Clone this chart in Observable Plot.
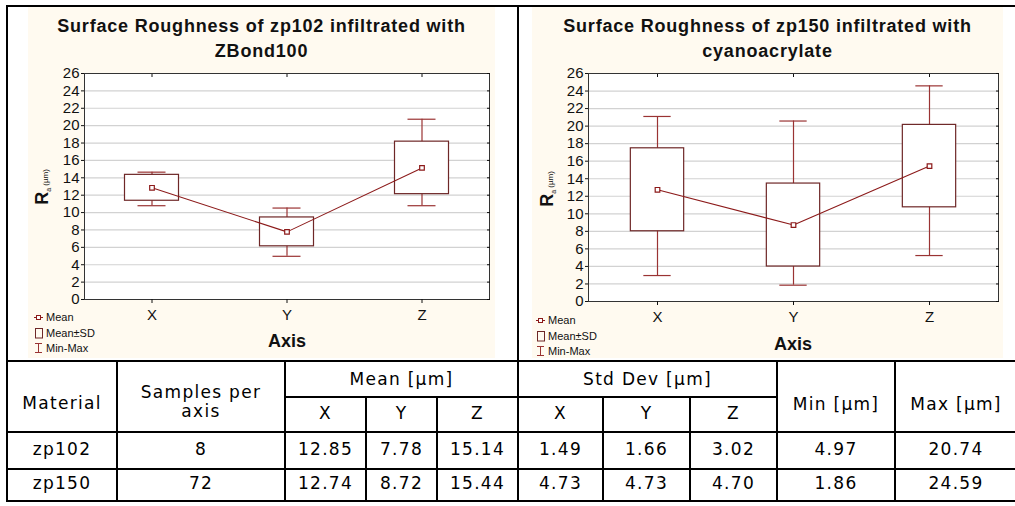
<!DOCTYPE html>
<html><head><meta charset="utf-8">
<script src="https://cdn.jsdelivr.net/npm/d3@7"></script>
<script src="https://cdn.jsdelivr.net/npm/@observablehq/plot@0.6"></script>
<style>
body{margin:0;background:#fff;}
#root{position:relative;width:1015px;height:506px;overflow:hidden;background:#fff;}
.panel{position:absolute;background:#fffaf0;}
.panel svg{position:absolute;left:0;top:0;}
.hl{position:absolute;background:#000;height:2px;}
.vl{position:absolute;background:#000;width:2px;}
.cell{position:absolute;display:flex;flex-direction:column;align-items:center;justify-content:center;text-align:center;font-family:'DejaVu Sans',sans-serif;font-size:17px;line-height:18px;letter-spacing:1.3px;color:#000;box-sizing:border-box;}
.title{position:absolute;font-family:'Liberation Sans',Arial,sans-serif;font-weight:bold;font-size:18px;line-height:25px;text-align:center;white-space:nowrap;transform:translateX(-50%);letter-spacing:0.8px;color:#111;}
.axlab{position:absolute;font-family:'Liberation Sans',Arial,sans-serif;font-weight:bold;font-size:18px;line-height:18px;white-space:nowrap;transform:translateX(-50%);color:#111;}
.ylab{position:absolute;font-family:'Liberation Sans',Arial,sans-serif;line-height:18px;white-space:nowrap;transform:translate(-50%,-50%) rotate(-90deg);color:#111;}
.leg{position:absolute;font-family:'Liberation Sans',Arial,sans-serif;font-size:11px;line-height:12px;white-space:nowrap;color:#111;display:flex;align-items:center;}
.leg svg{margin-right:2px;}
</style>
</head><body>
<div id="root"></div>
<script>
// ---------- data ----------
const categories = ["X", "Y", "Z"];
const yTicks = [0, 2, 4, 6, 8, 10, 12, 14, 16, 18, 20, 22, 24, 26];

const zp102Mean = [12.85, 7.78, 15.14];
const zp102SD   = [1.49, 1.66, 3.02];
const zp102Min  = [10.79, 4.97, 10.79];
const zp102Max  = [14.65, 10.52, 20.74];

const zp150Mean = [12.74, 8.72, 15.44];
const zp150SD   = [4.73, 4.73, 4.70];
const zp150Min  = [2.96, 1.86, 5.24];
const zp150Max  = [21.10, 20.58, 24.59];

const chartTitles = [
  ["Surface Roughness of zp102 infiltrated with", "ZBond100"],
  ["Surface Roughness of zp150 infiltrated with", "cyanoacrylate"]
];
const xAxisTitle = "Axis";
const legendLabels = ["Mean", "Mean±SD", "Min-Max"];

const tableHeaders = ["Material", "Samples per axis", "Mean [µm]", "Std Dev [µm]", "Min [µm]", "Max [µm]"];
const tableMaterials = ["zp102", "zp150"];
const tableSamples = ["8", "72"];
const tableMean = [["12.85", "7.78", "15.14"], ["12.74", "8.72", "15.44"]];
const tableSD   = [["1.49", "1.66", "3.02"], ["4.73", "4.73", "4.70"]];
const tableMin  = ["4.97", "1.86"];
const tableMax  = ["20.74", "24.59"];

// ---------- styles ----------
const meanColor = "#8c1a1a";
const boxColor = "#6e2727";
const whiskColor = "#9a3333";

const root = document.getElementById("root");
function el(tag, cls, style, html) {
  const e = document.createElement(tag);
  if (cls) e.className = cls;
  if (style) e.setAttribute("style", style);
  if (html != null) e.innerHTML = html;
  root.appendChild(e);
  return e;
}

function makeChart(cfg) {
  const data = categories.map((c, i) => ({axis: c, mean: cfg.mean[i], sd: cfg.sd[i], min: cfg.min[i], max: cfg.max[i]}));
  const bw = (cfg.width - cfg.ml - cfg.mr) / categories.length;
  const boxInset = (bw - 54) / 2, capInset = (bw - 28) / 2;
  return Plot.plot({
    width: cfg.width, height: cfg.height,
    marginLeft: cfg.ml, marginRight: cfg.mr, marginTop: cfg.mt, marginBottom: cfg.mb,
    style: {background: "transparent", fontFamily: "'Liberation Sans', Arial, sans-serif", fontSize: "15px", color: "#111", overflow: "visible"},
    x: {type: "band", domain: categories, padding: 0},
    y: {domain: [0, 26]},
    marks: [
      Plot.frame({fill: "white"}),
      Plot.gridY(yTicks, {stroke: "#d2d2d2", strokeOpacity: 1, strokeWidth: 1.2}),
      Plot.ruleX(data, {x: "axis", y1: "min", y2: "max", stroke: whiskColor, strokeWidth: 1.2}),
      Plot.tickY(data, {x: "axis", y: "min", stroke: whiskColor, strokeWidth: 1.2, insetLeft: capInset, insetRight: capInset}),
      Plot.tickY(data, {x: "axis", y: "max", stroke: whiskColor, strokeWidth: 1.2, insetLeft: capInset, insetRight: capInset}),
      Plot.barY(data, {x: "axis", y1: d => d.mean - d.sd, y2: d => d.mean + d.sd, fill: "white", stroke: boxColor, strokeWidth: 1.2, insetLeft: boxInset, insetRight: boxInset}),
      Plot.line(data, {x: "axis", y: "mean", stroke: meanColor, strokeWidth: 1.1}),
      Plot.dot(data, {x: "axis", y: "mean", symbol: "square", r: 2.6, stroke: meanColor, fill: "white", strokeWidth: 1.2}),
      Plot.frame({stroke: "#333"}),
      Plot.axisY(yTicks, {anchor: "left", tickSize: 3, tickPadding: 2, label: null, fontSize: 15}),
      Plot.axisY(yTicks, {anchor: "right", tickSize: -3, tickFormat: () => "", label: null}),
      Plot.axisX({anchor: "bottom", tickSize: 4, tickPadding: 6, label: null, fontSize: 15}),
      Plot.axisX({anchor: "top", tickSize: -3, tickFormat: () => "", label: null})
    ]
  });
}

const panels = [
  {left: 28, top: 7, width: 467, height: 351, ml: 56, mr: 6, mt: 66, mb: 59,
   mean: zp102Mean, sd: zp102SD, min: zp102Min, max: zp102Max,
   titleX: 261.5, axisX: 287, axisTop: 332, yl: [43.5, 187], legX: 34, legY: [316.7, 332.5, 348], title: chartTitles[0]},
  {left: 532, top: 7, width: 471, height: 351, ml: 56, mr: 5, mt: 66, mb: 57,
   mean: zp150Mean, sd: zp150SD, min: zp150Min, max: zp150Max,
   titleX: 767.5, axisX: 793, axisTop: 335, yl: [548.5, 189], legX: 536, legY: [320, 335.5, 351], title: chartTitles[1]}
];

const legendIcons = [
  `<svg width="10" height="12"><line x1="0" x2="9" y1="6.5" y2="6.5" stroke="${meanColor}"/><rect x="2.5" y="4.5" width="4" height="4" fill="white" stroke="${meanColor}"/></svg>`,
  `<svg width="10" height="12"><rect x="1.5" y="1.5" width="7" height="9.5" fill="none" stroke="${boxColor}"/></svg>`,
  `<svg width="10" height="12"><line x1="4.5" x2="4.5" y1="1" y2="11" stroke="${whiskColor}"/><line x1="1" x2="8" y1="1.5" y2="1.5" stroke="${whiskColor}"/><line x1="1" x2="8" y1="10.5" y2="10.5" stroke="${whiskColor}"/></svg>`
];

for (const p of panels) {
  const div = el("div", "panel", `left:${p.left}px;top:${p.top}px;width:${p.width}px;height:${p.height}px;`);
  div.appendChild(makeChart(p));
  el("div", "title", `left:${p.titleX}px;top:14px;`, p.title.join("<br>"));
  el("div", "axlab", `left:${p.axisX}px;top:${p.axisTop}px;`, xAxisTitle);
  el("div", "ylab", `left:${p.yl[0]}px;top:${p.yl[1]}px;`,
    `<span style="font-weight:bold;font-size:18px">R</span><span style="font-size:7px;position:relative;top:3px">a</span><span style="font-size:8px"> (µm)</span>`);
  legendLabels.forEach((t, i) => {
    el("div", "leg", `left:${p.legX}px;top:${p.legY[i] - 6}px;`, legendIcons[i] + `<span>${t}</span>`);
  });
}

// ---------- table ----------
const C = [7, 117, 285, 366, 437, 518, 603, 690, 777, 895, 1017];
const R = [361, 397, 432, 469, 501];
function cell(c1, c2, r1, r2, html, dy, extra) {
  const x1 = C[c1], x2 = C[c2], y1 = R[r1], y2 = R[r2];
  el("div", "cell", `left:${x1 + 1}px;width:${x2 - x1 - 2}px;top:${y1 + 1 + (dy || 0)}px;height:${y2 - y1 - 2}px;${extra || ""}`, html);
}
cell(0, 1, 0, 2, tableHeaders[0], 6);
cell(1, 2, 0, 2, "Samples per<br>axis", 5, "line-height:19px;");
cell(2, 5, 0, 1, tableHeaders[2], 0);
cell(5, 8, 0, 1, tableHeaders[3], 0);
cell(8, 9, 0, 2, tableHeaders[4], 7);
cell(9, 10, 0, 2, tableHeaders[5], 7);
categories.forEach((c, i) => { cell(2 + i, 3 + i, 1, 2, c, -2); cell(5 + i, 6 + i, 1, 2, c, -2); });
tableMaterials.forEach((m, r) => {
  cell(0, 1, 2 + r, 3 + r, m, -2);
  cell(1, 2, 2 + r, 3 + r, tableSamples[r], -2);
  tableMean[r].forEach((v, i) => cell(2 + i, 3 + i, 2 + r, 3 + r, v, -2));
  tableSD[r].forEach((v, i) => cell(5 + i, 6 + i, 2 + r, 3 + r, v, -2));
  cell(8, 9, 2 + r, 3 + r, tableMin[r], -2);
  cell(9, 10, 2 + r, 3 + r, tableMax[r], -2);
});

// grid lines
function hline(y, x1, x2) { el("div", "hl", `top:${y - 1}px;left:${x1}px;width:${x2 - x1}px;`); }
function vline(x, y1, y2) { el("div", "vl", `left:${x - 1}px;top:${y1}px;height:${y2 - y1}px;`); }
hline(6, 6, 1015);
[R[0], R[2], R[3], R[4]].forEach(y => hline(y, 6, 1015));
hline(R[1], C[2], C[8]);
vline(C[0], 5, R[4] + 1);
vline(517.5, 5, R[4] + 1);
[C[1], C[2], C[8], C[9]].forEach(x => vline(x, R[0], R[4] + 1));
[C[3], C[4], C[6], C[7]].forEach(x => vline(x, R[1], R[4] + 1));
</script>
</body></html>
